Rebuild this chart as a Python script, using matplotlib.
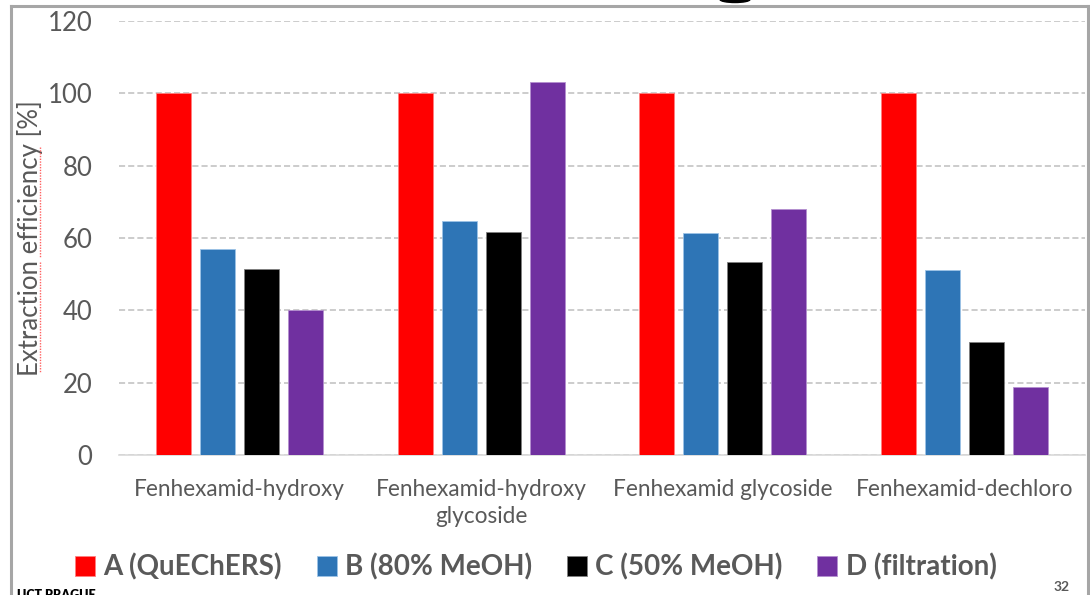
import matplotlib
matplotlib.use("Agg")
import matplotlib.pyplot as plt
import numpy as np
from matplotlib.patches import Ellipse
from matplotlib.lines import Line2D

# Data
categories = ["Fenhexamid-hydroxy", "Fenhexamid-hydroxy\nglycoside",
              "Fenhexamid glycoside", "Fenhexamid-dechloro"]
series_names = ["A (QuEChERS)", "B (80% MeOH)", "C (50% MeOH)", "D (filtration)"]
series_a = [100, 100, 100, 100]
series_b = [57.0, 64.8, 61.5, 51.1]
series_c = [51.3, 61.7, 53.5, 31.2]
series_d = [40.0, 103.2, 67.9, 18.9]
colors = ["#FF0000", "#2E75B6", "#000000", "#7030A0"]
edges = ["#ff8080", "#9dc3e6", "#7f7f7f", "#b48fd0"]
yticks = [0, 20, 40, 60, 80, 100, 120]

W, H = 1090, 595
fig = plt.figure(figsize=(W / 100, H / 100), dpi=100)
plt.rcParams["font.family"] = ["Lato", "DejaVu Sans"]
txt = "#595959"

ax = fig.add_axes([119 / W, (H - 455) / H, (1085 - 119) / W, (455 - 21) / H])
x = np.arange(len(categories))
step = 0.182
width = 0.145
all_series = [series_a, series_b, series_c, series_d]
handles = []
for i, vals in enumerate(all_series):
    b = ax.bar(x + (i - 1.5) * step, vals, width, color=colors[i],
               edgecolor=edges[i], linewidth=0.6, zorder=3, label=series_names[i])
    handles.append(b)

ax.set_xlim(-0.5, 3.5)
ax.set_ylim(0, 120)
ax.set_yticks(yticks)
ax.set_xticks(x)
ax.set_xticklabels(categories, fontsize=16.3, color=txt, linespacing=1.4)
ax.tick_params(axis="y", labelsize=18.5, colors=txt, length=0, pad=19)
ax.tick_params(axis="x", length=0, pad=17)
for s in ["top", "right", "left"]:
    ax.spines[s].set_visible(False)
ax.spines["bottom"].set_color("#d9d9d9")
ax.spines["bottom"].set_linewidth(1.2)
ax.yaxis.grid(True, linestyle=(0, (4, 2)), color="#bfbfbf", linewidth=1.1, zorder=0)
ax.set_axisbelow(True)

ax.set_ylabel("Extraction efficiency [%]", fontsize=18.5, color=txt)
ax.yaxis.set_label_coords(-(119 - 43) / (1085 - 119), (455 - 238) / (455 - 21))

# Legend along the bottom
leg = fig.legend(handles=handles, labels=series_names, loc="center",
                 bbox_to_anchor=(536 / W, (H - 567) / H), ncol=4, frameon=False,
                 prop={"weight": "bold", "size": 20}, labelcolor=txt,
                 handlelength=0.72, handleheight=0.72, handletextpad=0.3,
                 columnspacing=1.25)

# Slide frame and decorations
def px(xp, yp):
    return xp / W, 1 - yp / H

frame = dict(color="#a6a6a6", linewidth=2.2, transform=fig.transFigure)
fig.add_artist(Line2D([11 / W, 11 / W], [0, 1 - 6 / H], **frame))
fig.add_artist(Line2D([1088 / W, 1088 / W], [0, 1 - 6 / H], **frame))
fig.add_artist(Line2D([11 / W, 1088 / W], [1 - 6 / H, 1 - 6 / H], **frame))
fig.add_artist(Ellipse(px(735, -0.5), 30 / W, 6 / H, color="black",
                       transform=fig.transFigure))

# spell-check underline under the axis title
sq = dict(color="#ff6060", linewidth=1.0, linestyle=(0, (1, 1)), transform=fig.transFigure)
fig.add_artist(Line2D([40 / W, 40 / W], [1 - 147 / H, 1 - 258 / H], **sq))
fig.add_artist(Line2D([40 / W, 40 / W], [1 - 262 / H, 1 - 373 / H], **sq))

fig.text(*px(1070, 593), "32", fontsize=10, color=txt, weight="bold",
         ha="right", va="bottom")
fig.text(*px(17, 589), "UCT PRAGUE", fontsize=9, color="black", weight="heavy",
         ha="left", va="top")

fig.savefig("out.png", dpi=100)
